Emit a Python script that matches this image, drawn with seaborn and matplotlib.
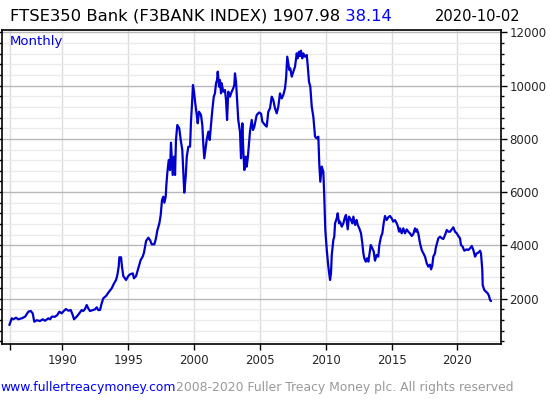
import matplotlib
matplotlib.use('Agg')
import matplotlib.pyplot as plt
import seaborn as sns
import pandas as pd
from matplotlib.ticker import MultipleLocator

# month positions (decimal years on the chart's own axis) and index level
years = [
    1985.98, 1986.16, 1986.28, 1986.48, 1986.66, 1986.92, 1987.17, 1987.42, 1987.60, 1987.75,
    1987.87, 1988.06, 1988.31, 1988.51, 1988.69, 1988.94, 1989.07, 1989.20, 1989.45, 1989.62,
    1989.77, 1989.95, 1990.13, 1990.28, 1990.46, 1990.64, 1990.79, 1990.89, 1991.09, 1991.29,
    1991.47, 1991.59, 1991.72, 1991.85, 1991.97, 1992.10, 1992.31, 1992.48, 1992.61, 1992.73,
    1992.86, 1992.99, 1993.11, 1993.32, 1993.49, 1993.75, 1993.93, 1994.08, 1994.18, 1994.28,
    1994.33, 1994.46, 1994.53, 1994.63, 1994.84, 1995.01, 1995.14, 1995.35, 1995.44, 1995.60,
    1995.77, 1995.95, 1996.10, 1996.20, 1996.36, 1996.53, 1996.66, 1996.79, 1996.99, 1997.11,
    1997.21, 1997.37, 1997.47, 1997.57, 1997.67, 1997.75, 1997.85, 1997.90, 1997.97, 1998.08,
    1998.18, 1998.25, 1998.33, 1998.38, 1998.48, 1998.56, 1998.63, 1998.73, 1998.88, 1998.99,
    1999.11, 1999.19, 1999.26, 1999.37, 1999.45, 1999.57, 1999.70, 1999.77, 1999.85, 1999.92,
    2000.00, 2000.08, 2000.21, 2000.28, 2000.38, 2000.53, 2000.63, 2000.71, 2000.78, 2000.89,
    2000.96, 2001.09, 2001.19, 2001.29, 2001.39, 2001.50, 2001.59, 2001.67, 2001.75, 2001.80,
    2001.85, 2001.90, 2001.97, 2002.05, 2002.10, 2002.22, 2002.35, 2002.43, 2002.51, 2002.60,
    2002.73, 2002.86, 2002.98, 2003.06, 2003.11, 2003.19, 2003.27, 2003.36, 2003.49, 2003.57,
    2003.67, 2003.74, 2003.82, 2003.93, 2004.00, 2004.08, 2004.20, 2004.25, 2004.38, 2004.48,
    2004.58, 2004.76, 2004.94, 2005.09, 2005.19, 2005.39, 2005.52, 2005.64, 2005.77, 2005.90,
    2006.02, 2006.15, 2006.28, 2006.40, 2006.53, 2006.66, 2006.78, 2006.91, 2006.99, 2007.08,
    2007.16, 2007.24, 2007.31, 2007.42, 2007.54, 2007.67, 2007.80, 2007.87, 2007.97, 2008.05,
    2008.12, 2008.22, 2008.30, 2008.43, 2008.56, 2008.63, 2008.73, 2008.83, 2008.94, 2009.06,
    2009.19, 2009.32, 2009.44, 2009.51, 2009.59, 2009.70, 2009.82, 2009.89, 2009.97, 2010.08,
    2010.20, 2010.33, 2010.40, 2010.46, 2010.58, 2010.65, 2010.71, 2010.84, 2010.91, 2011.01,
    2011.09, 2011.22, 2011.34, 2011.47, 2011.54, 2011.67, 2011.77, 2011.92, 2012.02, 2012.10,
    2012.23, 2012.35, 2012.43, 2012.55, 2012.68, 2012.78, 2012.86, 2012.93, 2013.04, 2013.14,
    2013.24, 2013.31, 2013.42, 2013.54, 2013.65, 2013.74, 2013.87, 2013.99, 2014.07, 2014.20,
    2014.30, 2014.40, 2014.50, 2014.63, 2014.75, 2014.88, 2015.01, 2015.13, 2015.26, 2015.39,
    2015.47, 2015.57, 2015.64, 2015.77, 2015.89, 2016.02, 2016.15, 2016.27, 2016.40, 2016.53,
    2016.65, 2016.78, 2016.86, 2016.93, 2017.03, 2017.16, 2017.29, 2017.41, 2017.54, 2017.67,
    2017.79, 2017.92, 2018.00, 2018.09, 2018.17, 2018.30, 2018.35, 2018.45, 2018.55, 2018.68,
    2018.81, 2018.93, 2019.06, 2019.19, 2019.31, 2019.44, 2019.57, 2019.69, 2019.82, 2019.95,
    2020.07, 2020.20, 2020.27, 2020.40, 2020.52, 2020.71, 2020.83, 2020.96, 2021.09, 2021.21,
    2021.34, 2021.47, 2021.59, 2021.72, 2021.79, 2021.89, 2021.92, 2022.04, 2022.17, 2022.30,
    2022.40, 2022.48, 2022.55,
]
values = [
    1010, 1262, 1224, 1284, 1224, 1262, 1322, 1510, 1536, 1449,
    1134, 1190, 1160, 1224, 1170, 1262, 1224, 1322, 1322, 1385,
    1510, 1449, 1547, 1610, 1547, 1572, 1385, 1224, 1322, 1449,
    1572, 1536, 1610, 1761, 1635, 1536, 1572, 1598, 1674, 1572,
    1572, 1824, 2012, 2100, 2223, 2388, 2576, 2701, 2888, 3200,
    3552, 3552, 3200, 2850, 2700, 2850, 2913, 2950, 2763, 2850,
    3139, 3451, 3576, 3726, 4164, 4288, 4200, 4040, 4040, 4263,
    4551, 4829, 5141, 5704, 5829, 5604, 5829, 6267, 6706, 7206,
    6830, 7856, 7080, 6643, 7331, 6643, 7957, 8520, 8396, 7957,
    7581, 6706, 5979, 6580, 7331, 7706, 7706, 8645, 9335, 10022,
    9772, 9395, 8896, 8584, 9020, 8896, 8520, 7769, 7269, 7707,
    7957, 8270, 7957, 8520, 9083, 9583, 9708, 10085, 10210, 10522,
    10272, 9960, 10210, 9708, 10085, 9771, 9834, 9459, 8708, 9771,
    9583, 9771, 9896, 10022, 10460, 10147, 9459, 8708, 8269, 7269,
    8583, 7582, 6830, 7331, 6955, 7269, 7957, 8270, 8708, 8332,
    8457, 8896, 8990, 8946, 8645, 8520, 8458, 9020, 9145, 9583,
    9458, 9145, 8959, 9208, 9709, 9520, 9646, 9897, 10273, 11085,
    10835, 10584, 10647, 10334, 10522, 10710, 11210, 11022, 11272, 11110,
    11310, 11022, 11210, 11085, 11147, 10773, 10146, 9958, 9208, 8832,
    8081, 8019, 8081, 7082, 6391, 6957, 6767, 5828, 4577, 3826,
    3200, 2700, 2950, 3639, 4202, 4327, 4829, 5017, 5204, 4829,
    4892, 4702, 4829, 5079, 5142, 4602, 5079, 4954, 4829, 5079,
    4767, 4953, 4767, 4641, 4453, 4078, 3702, 3515, 3388, 3515,
    3388, 3639, 4014, 3889, 3764, 3425, 3639, 3576, 4014, 4327,
    4452, 4829, 5104, 4953, 5054, 5104, 5017, 4892, 4950, 4829,
    4727, 4514, 4640, 4452, 4640, 4452, 4600, 4514, 4452, 4352,
    4427, 4640, 4514, 4600, 4452, 4078, 3826, 3702, 3577, 3327,
    3202, 3277, 3101, 3240, 3577, 3702, 3890, 4078, 4265, 4327,
    4265, 4240, 4390, 4577, 4514, 4514, 4600, 4678, 4514, 4452,
    4352, 4265, 4014, 3952, 3800, 3851, 3826, 3890, 3977, 3826,
    3577, 3702, 3727, 3800, 3702, 3075, 2512, 2324, 2262, 2200,
    2099, 1949, 1908,
]

year_ticks = [1986, 1990, 1995, 2000, 2005, 2010, 2015, 2020]
year_labels = ['', '1990', '1995', '2000', '2005', '2010', '2015', '2020']
price_ticks = [2000, 4000, 6000, 8000, 10000, 12000]

sns.set_style('white')
plt.rcParams['font.family'] = ['DejaVu Sans']

fig = plt.figure(figsize=(5.5, 4), dpi=100)
ax = fig.add_axes([2 / 550, 56 / 400, 499 / 550, 314 / 400])

df = pd.DataFrame({'year': years, 'value': values})
sns.lineplot(data=df, x='year', y='value', estimator=None, sort=False,
             color='#0000cc', linewidth=1.6, ax=ax)

ax.set_xlim(1985.42, 2023.31)
ax.set_ylim(297, 12087)
ax.set_xlabel('')
ax.set_ylabel('')

ax.set_xticks(year_ticks)
ax.set_xticklabels(year_labels)
ax.set_yticks(price_ticks)
ax.yaxis.set_minor_locator(MultipleLocator(400))
ax.yaxis.tick_right()
ax.tick_params(axis='y', which='both', left=True, right=True, labelleft=False,
               labelright=True, direction='out', labelsize=8.5, pad=2, width=1, color='black')
ax.tick_params(axis='y', which='major', length=4)
ax.tick_params(axis='y', which='minor', length=2.5)
ax.tick_params(axis='x', which='major', bottom=True, direction='out', length=4,
               width=1, labelsize=8.5, pad=3, color='black')

ax.set_axisbelow(True)
ax.grid(axis='y', which='major', color='#b8b8b8', linewidth=1)
ax.grid(axis='y', which='minor', color='#ebebeb', linewidth=1)
ax.grid(axis='x', which='major', color='#dcdcdc', linewidth=1)
for side in ['left', 'right', 'top', 'bottom']:
    ax.spines[side].set_visible(True)
    ax.spines[side].set_color('black')
    ax.spines[side].set_linewidth(1.2)

ax.text(0.016, 0.953, 'Monthly', transform=ax.transAxes, va='baseline', ha='left',
        color='#0000dd', fontsize=9.5)

# header
renderer = fig.canvas.get_renderer()
t1 = fig.text(10 / 550, 0.948, 'FTSE350 Bank (F3BANK INDEX) 1907.98', va='baseline',
              ha='left', fontsize=11.8, color='black')
bb = t1.get_window_extent(renderer)
fig.text(bb.x1 / 550, 0.948, ' 38.14', va='baseline', ha='left', fontsize=11.8, color='#0000ff')
fig.text(520 / 550, 0.948, '2020-10-02', va='baseline', ha='right', fontsize=10.5, color='black')

# footer
f1 = fig.text(0, 9 / 400, 'www.fullertreacymoney.com', va='baseline', ha='left',
              fontsize=8.9, color='#0000ff')
bb = f1.get_window_extent(renderer)
fig.text(bb.x1 / 550, 9 / 400, '2008-2020 Fuller Treacy Money plc. All rights reserved',
         va='baseline', ha='left', fontsize=8.9, color='#999999')

fig.savefig('out.png', dpi=100)
